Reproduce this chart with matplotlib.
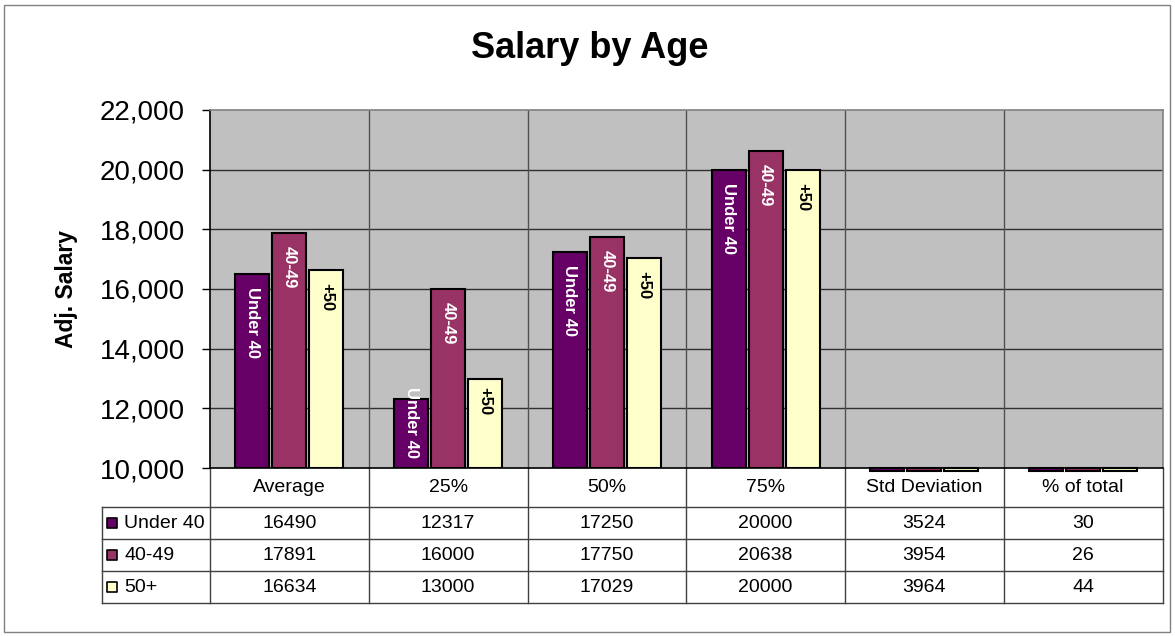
import numpy as np
import matplotlib
matplotlib.use("Agg")
from matplotlib import pyplot as plt
from matplotlib.patches import Rectangle

categories = ["Average", "25%", "50%", "75%", "Std Deviation", "% of total"]
series_names = ["Under 40", "40-49", "50+"]
bar_labels = ["Under 40", "40-49", "+50"]
under40 = [16490, 12317, 17250, 20000, 3524, 30]
age40_49 = [17891, 16000, 17750, 20638, 3954, 26]
age50plus = [16634, 13000, 17029, 20000, 3964, 44]

colors = ["#660066", "#993366", "#FFFFCC"]
label_colors = ["white", "white", "black"]

Y_MIN, Y_MAX = 10000, 22000
FONT = "Liberation Sans"

fig = plt.figure(figsize=(11.75, 6.36), dpi=100)
W, H = 1175, 636
ax_left, ax_right, ax_top, ax_bot = 210, 1162.5, 110, 468
ax = fig.add_axes([ax_left / W, 1 - ax_bot / H, (ax_right - ax_left) / W, (ax_bot - ax_top) / H])
ax.set_facecolor("#C0C0C0")

# figure border
fig.patches.append(Rectangle((4 / W, 4 / H), 1 - 9 / W, 1 - 9 / H, transform=fig.transFigure,
                             fill=False, edgecolor="#808080", lw=1))

x = np.arange(len(categories))
width = 0.214
offsets = [-0.233, 0.0, 0.233]
units_per_px = (Y_MAX - Y_MIN) / (ax_bot - ax_top)
pad = 13 * units_per_px
label_len = 68 * units_per_px

all_series = [under40, age40_49, age50plus]
for i, vals in enumerate(all_series):
    vals = np.array(vals, dtype=float)
    for j in range(len(vals)):
        h = vals[j] - Y_MIN
        clip = True
        if h < 0:
            # below the axis floor: Excel shows a little stub
            h = -3 * units_per_px
            clip = False
        ax.bar(x[j] + offsets[i], h, width, bottom=Y_MIN, color=colors[i],
               edgecolor="black", lw=1.5, zorder=3, clip_on=clip)
        if vals[j] > Y_MIN:
            ytxt = max(vals[j] - pad, Y_MIN + pad + label_len)
            ax.text(x[j] + offsets[i], ytxt, bar_labels[i], rotation=-90, ha="center", va="top",
                    color=label_colors[i], fontsize=12, fontweight="bold", family=FONT, zorder=4)

ax.set_xlim(-0.5, len(categories) - 0.5)
ax.set_ylim(Y_MIN, Y_MAX)
ax.set_yticks(np.arange(Y_MIN, Y_MAX + 1, 2000))
ax.set_yticklabels(["{:,}".format(v) for v in range(Y_MIN, Y_MAX + 1, 2000)], fontsize=20, family=FONT)
ax.set_xticks([])
ax.tick_params(axis="y", direction="out", length=6, width=1, pad=12)
ax.grid(False)
for yv in range(Y_MIN + 2000, Y_MAX, 2000):
    ax.axhline(yv, color="#303030", lw=1, zorder=1)
for xv in x[:-1] + 0.5:
    ax.axvline(xv, color="#505050", lw=1, zorder=1)

ax.spines["left"].set_color("black")
ax.spines["bottom"].set_color("black")
ax.spines["top"].set_color("#808080")
ax.spines["right"].set_color("#808080")
for s in ax.spines.values():
    s.set_linewidth(1.2)

ax.set_ylabel("Adj. Salary", fontsize=16.5, fontweight="bold", family=FONT, labelpad=16)
fig.text(0.502, 1 - 48 / H, "Salary by Age", ha="center", va="center",
         fontsize=26, fontweight="bold", family=FONT)

# data table under the axis
tr = ax.get_xaxis_transform()
ax_h = ax_bot - ax_top
header_h = 39 / ax_h
row_h = 32 / ax_h
leg_left = (102 - ax_left) / ((ax_right - ax_left) / len(categories)) - 0.5
xl, xr = -0.5, len(categories) - 0.5
line_kw = dict(color="#404040", lw=1, transform=tr, clip_on=False)

y_header_bot = -header_h
y_rows = [y_header_bot - row_h * k for k in range(len(series_names) + 1)]
# vertical lines
for xv in np.arange(xl, xr + 0.01, 1.0):
    ax.plot([xv, xv], [0, y_rows[-1]], **line_kw)
ax.plot([leg_left, leg_left], [y_rows[0], y_rows[-1]], **line_kw)
# horizontal lines
for yv in y_rows:
    ax.plot([leg_left, xr], [yv, yv], **line_kw)

for j, cat in enumerate(categories):
    ax.text(x[j], -header_h / 2, cat, transform=tr, ha="center", va="center", fontsize=14, family=FONT)

for i, (name, vals) in enumerate(zip(series_names, all_series)):
    yc = (y_rows[i] + y_rows[i + 1]) / 2
    for j, v in enumerate(vals):
        ax.text(x[j], yc, str(v), transform=tr, ha="center", va="center", fontsize=14, family=FONT)
    ax.text(leg_left + 0.14, yc, name, transform=tr, ha="left", va="center", fontsize=14, family=FONT)
    ax.scatter([leg_left + 0.062], [yc], marker="s", s=52, color=colors[i], edgecolor="black",
               lw=1.2, transform=tr, clip_on=False, zorder=5)

fig.savefig("out.png", dpi=100)
